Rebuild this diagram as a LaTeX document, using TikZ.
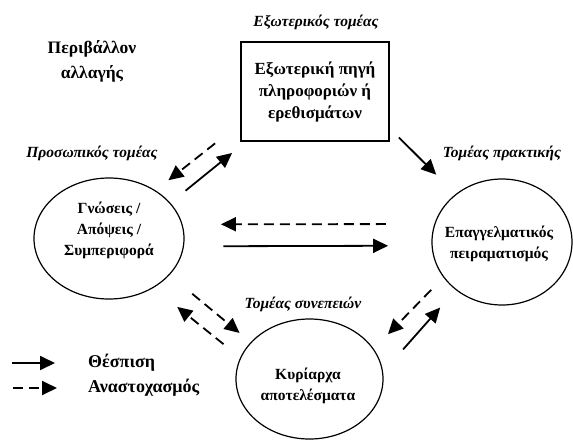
\documentclass[tikz,border=0pt]{standalone}
\usepackage{fontspec}
\setmainfont{Liberation Serif}
\usetikzlibrary{positioning,arrows.meta,shapes.geometric}

\begin{document}
\begin{tikzpicture}[x=1pt,y=-1pt,>={Triangle[length=15pt,width=14pt]},
  b/.style={draw,line width=1.8pt,align=center,inner sep=0,outer sep=0,minimum width=148pt,minimum height=99pt,font=\fontsize{17}{22}\selectfont\bfseries},
  c/.style={draw,ellipse,line width=1.2pt,inner sep=0,outer sep=0},
  t/.style={align=center,inner sep=0,font=\fontsize{15.5}{21}\selectfont\bfseries},
  s/.style={inner sep=0,font=\fontsize{15.5}{18}\selectfont\bfseries\itshape},
  g/.style={inner sep=0,font=\fontsize{18}{20}\selectfont\bfseries},
  a/.style={->,line width=1.8pt},
  d/.style={->,line width=1.8pt,dash pattern=on 10pt off 6pt}]
  \useasboundingbox (0,0) rectangle (573,440);
  \node[b] (x) at (315,91.5) {Εξωτερική πηγή\\πληροφοριών ή\\ερεθισμάτων};
  \node[c,minimum width=150pt,minimum height=121pt] (k) at (109,238.5) {};
  \node[c,minimum width=140pt,minimum height=126pt] (p) at (502,242) {};
  \node[c,minimum width=147pt,minimum height=120pt] (r) at (309.5,379) {};
  \node[t] (kl) at (109,230) {Γνώσεις /\\Απόψεις /\\Συμπεριφορά};
  \node[t] (pl) at (499,244) {Επαγγελματικός\\πειραματισμός};
  \node[t] (rl) at (308,386) {Κυρίαρχα\\αποτελέσματα};
  \node[s] (xs) at (316,22) {Εξωτερικός τομέας};
  \node[s] (ks) at (92,153) {Προσωπικός τομέας};
  \node[s] (ps) at (502,153) {Τομέας πρακτικής};
  \node[s] (rs) at (303,304) {Τομέας συνεπειών};
  \node[t,font=\fontsize{17.5}{25}\selectfont\bfseries] (e) at (92,61) {Περιβάλλον\\αλλαγής};
  \draw[d,shorten <=33pt,shorten >=17pt] (x.-157) -- (k.46);
  \draw[a,shorten <=20pt,shorten >=19pt] (k.30) -- (x.-144);
  \draw[a,shorten <=14pt,shorten >=28pt] (x.-26) -- (p.134);
  \draw[d,shorten <=49pt,shorten >=39pt] (p.165) -- (k.11);
  \draw[a,shorten <=40pt,shorten >=44pt] (k.-6) -- (p.-177);
  \draw[d,shorten <=30pt,shorten >=15pt] (k.-31) -- (r.148);
  \draw[d,shorten <=22pt,shorten >=31pt] (r.163) -- (k.-48);
  \draw[d,shorten <=18pt,shorten >=21pt] (p.-149) -- (r.25);
  \draw[a,shorten <=31pt,shorten >=24pt] (r.5) -- (p.-134);
  \coordinate (l1) at (12,363);
  \coordinate (l2) at (13,388);
  \draw[a] (l1) -- ++(43,0) coordinate (l1e);
  \draw[d] (l2) -- ++(44,0) coordinate (l2e);
  \node[g,right=33pt of l1e] (th) {Θέσπιση};
  \node[g,right=31pt of l2e] (an) {Αναστοχασμός};
\end{tikzpicture}
\end{document}
